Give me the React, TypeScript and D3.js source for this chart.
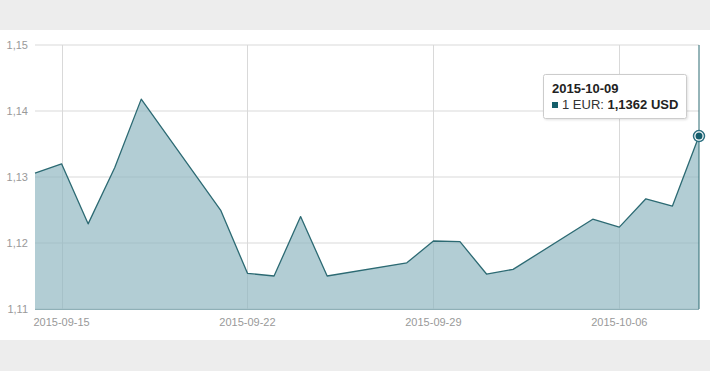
import React from "react";
import * as d3 from "d3";

const dates = [
  "2015-09-14", "2015-09-15", "2015-09-16", "2015-09-17", "2015-09-18",
  "2015-09-21", "2015-09-22", "2015-09-23", "2015-09-24", "2015-09-25",
  "2015-09-28", "2015-09-29", "2015-09-30", "2015-10-01", "2015-10-02",
  "2015-10-05", "2015-10-06", "2015-10-07", "2015-10-08", "2015-10-09",
];
const rates = [
  1.1306, 1.1320, 1.1229, 1.1314, 1.1418,
  1.1249, 1.1154, 1.1150, 1.1240, 1.1150,
  1.1170, 1.1203, 1.1202, 1.1153, 1.1160,
  1.1236, 1.1224, 1.1267, 1.1256, 1.1362,
];
const yTicks = [1.11, 1.12, 1.13, 1.14, 1.15];
const xTickDates = ["2015-09-15", "2015-09-22", "2015-09-29", "2015-10-06"];
const tooltipDate = "2015-10-09";
const tooltipLabel = "1 EUR: ";
const tooltipValue = "1,1362 USD";

const W = 710;
const H = 371;

export default function App() {
  const parse = d3.utcParse("%Y-%m-%d");
  const data = dates.map((d, i) => ({ date: parse(d) as Date, v: rates[i] }));
  const x = d3
    .scaleUtc()
    .domain([parse("2015-09-14") as Date, parse("2015-10-09") as Date])
    .range([35, 699]);
  const y = d3.scaleLinear().domain([1.11, 1.15]).range([309, 45]);
  const area = d3
    .area<{ date: Date; v: number }>()
    .x((d) => x(d.date))
    .y0(y(1.11))
    .y1((d) => y(d.v));
  const line = d3
    .line<{ date: Date; v: number }>()
    .x((d) => x(d.date))
    .y((d) => y(d.v));
  const fmt = (v: number) => d3.format(".2f")(v).replace(".", ",");
  const last = data[data.length - 1];
  const lx = x(last.date);
  const ly = y(last.v);
  const font = "'Liberation Sans', Arial, sans-serif";

  return (
    <div style={{ position: "absolute", left: 0, top: 0 }}>
      <svg width={W} height={H} style={{ display: "block" }} fontFamily={font}>
        <defs>
          <filter id="tipShadow" x="-10%" y="-20%" width="130%" height="150%">
            <feDropShadow dx={1} dy={1} stdDeviation={1} floodColor="#000" floodOpacity={0.12} />
          </filter>
        </defs>
        <rect x={0} y={0} width={W} height={H} fill="#ededed" />
        <rect x={0} y={30} width={W} height={310} fill="#ffffff" />
        {/* grid */}
        {yTicks.map((t) => (
          <line key={"gy" + t} x1={35} x2={699} y1={y(t)} y2={y(t)} stroke="#d9d9d9" strokeWidth={1} />
        ))}
        {xTickDates.map((t) => {
          const px = Math.round(x(parse(t) as Date)) + 0.5;
          return <line key={"gx" + t} x1={px} x2={px} y1={45} y2={309} stroke="#d9d9d9" strokeWidth={1} />;
        })}
        {/* area */}
        <path d={area(data) || ""} fill="#8db6c0" fillOpacity={0.68} />
        <path d={line(data) || ""} fill="none" stroke="#2c6a73" strokeWidth={1.3} strokeLinejoin="round" />
        <line x1={35} x2={699} y1={309.5} y2={309.5} stroke="#8fb0b7" strokeWidth={1} />
        {/* y labels */}
        {yTicks.map((t) => (
          <text key={"yl" + t} x={28} y={y(t) + 4} textAnchor="end" fontSize={11} fill="#999999">
            {fmt(t)}
          </text>
        ))}
        {/* x labels */}
        {xTickDates.map((t) => (
          <text key={"xl" + t} x={x(parse(t) as Date)} y={326} textAnchor="middle" fontSize={11} fill="#999999">
            {t}
          </text>
        ))}
        {/* crosshair */}
        <line x1={lx} x2={lx} y1={45} y2={309} stroke="#2c6a73" strokeWidth={1} />
        <circle cx={lx} cy={ly} r={5.5} fill="#ffffff" stroke="#2c7080" strokeWidth={1.5} />
        <circle cx={lx} cy={ly} r={3.5} fill="#155e6d" />
        {/* tooltip */}
        <rect x={543.5} y={74.5} width={143} height={44} rx={2} fill="#ffffff" fillOpacity={0.96} stroke="#cccccc" strokeWidth={1} filter="url(#tipShadow)" />
        <text x={552} y={93} fontSize={13} fontWeight="bold" fill="#222222">
          {tooltipDate}
        </text>
        <rect x={552} y={102} width={6} height={6} fill="#165f6b" />
        <text x={562} y={109} fontSize={13} fill="#333333">
          {tooltipLabel}
          <tspan fontWeight="bold" fill="#222222">{tooltipValue}</tspan>
        </text>
      </svg>
    </div>
  );
}
